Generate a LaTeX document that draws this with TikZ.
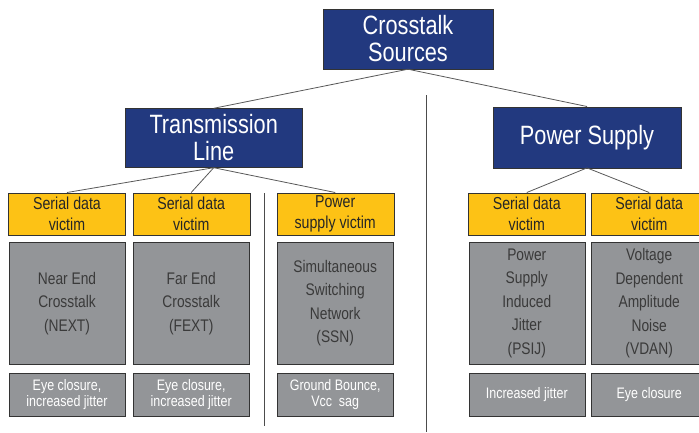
\documentclass[tikz,border=0pt]{standalone}
\usepackage{fontspec}
\setmainfont[FakeStretch=0.82]{Liberation Sans}
\definecolor{srcblue}{HTML}{22397F}
\definecolor{victimyellow}{HTML}{FDC215}
\definecolor{effectgray}{HTML}{939598}
\definecolor{edgegray}{HTML}{333333}
\definecolor{textgray}{HTML}{3A3A3A}

\begin{document}
\begin{tikzpicture}[x=1pt, y=-1pt,
      srcbox/.style={draw=edgegray, fill=srcblue, text=white, align=center,
        font=\fontsize{26.5}{27}\selectfont, inner sep=0pt},
      victimbox/.style={draw=edgegray, fill=victimyellow, text=black!85, align=center,
        minimum width=117pt, minimum height=42.6pt, inner sep=0pt,
        font=\fontsize{17.3}{20.5}\selectfont},
      mechbox/.style={draw=edgegray, fill=effectgray, text=textgray, align=center,
        minimum width=116pt, minimum height=122pt, inner sep=0pt,
        font=\fontsize{16.8}{23.5}\selectfont},
      effectbox/.style={draw=edgegray, fill=effectgray, text=white, align=center,
        minimum width=116pt, minimum height=43pt, inner sep=0pt,
        font=\fontsize{15.2}{15.5}\selectfont},
      link/.style={draw=black!65, line width=0.8pt},
      divider/.style={draw=black!70, line width=0.8pt}
    ]
      \useasboundingbox (0,0) rectangle (699,432);

      % top level
      \node[srcbox, minimum width=170pt, minimum height=60pt] (src) at (408,39) {Crosstalk\\Sources};
      \node[srcbox, minimum width=177pt, minimum height=59pt] (tl) at (213.7,138) {Transmission\\Line};
      \node[srcbox, minimum width=188pt, minimum height=61pt] (ps) at (587,137.2) {Power Supply};

      % victims
      \node[victimbox] (vnext) at (67,214) {Serial data\\victim};
      \node[victimbox] (vfext) at (191.2,214) {Serial data\\victim};
      \node[victimbox] (vssn) at (335.2,214) {Power\\supply victim};
      \node[victimbox] (vpsij) at (526.8,214) {Serial data\\victim};
      \node[victimbox] (vvdan) at (649.2,214) {Serial data\\victim};

      % mechanisms
      \node[mechbox] (next) at (67,303.3) {Near End\\Crosstalk\\(NEXT)};
      \node[mechbox] (fext) at (191.2,303.3) {Far End\\Crosstalk\\(FEXT)};
      \node[mechbox] (ssn) at (335.2,303.3) {Simultaneous\\Switching\\Network\\(SSN)};
      \node[mechbox] (psij) at (526.8,303.3) {Power\\Supply\\Induced\\Jitter\\(PSIJ)};
      \node[mechbox] (vdan) at (649.2,303.3) {Voltage\\Dependent\\Amplitude\\Noise\\(VDAN)};

      % effects
      \node[effectbox] (enext) at (67,394.8) {Eye closure,\\increased jitter};
      \node[effectbox] (efext) at (191.2,394.8) {Eye closure,\\increased jitter};
      \node[effectbox] (essn) at (335.2,394.8) {Ground Bounce,\\Vcc~~sag};
      \node[effectbox] (epsij) at (526.8,394.8) {Increased jitter};
      \node[effectbox] (evdan) at (649.2,394.8) {Eye closure};

      % connectors
      \draw[link] (src.south) -- (tl.north);
      \draw[link] (src.south) -- (ps.north);
      \foreach \v in {vnext, vfext, vssn} {
        \draw[link] (tl.south) -- (\v.north);
      }
      \foreach \v in {vpsij, vvdan} {
        \draw[link] (ps.south) -- (\v.north);
      }

      % dividers
      \coordinate (d1top) at (264.3,193);
      \coordinate (d1bot) at (264.3,426);
      \coordinate (d2top) at (426.3,95);
      \coordinate (d2bot) at (426.3,432);
      \draw[divider] (d1top) -- (d1bot);
      \draw[divider] (d2top) -- (d2bot);
    \end{tikzpicture}
\end{document}
